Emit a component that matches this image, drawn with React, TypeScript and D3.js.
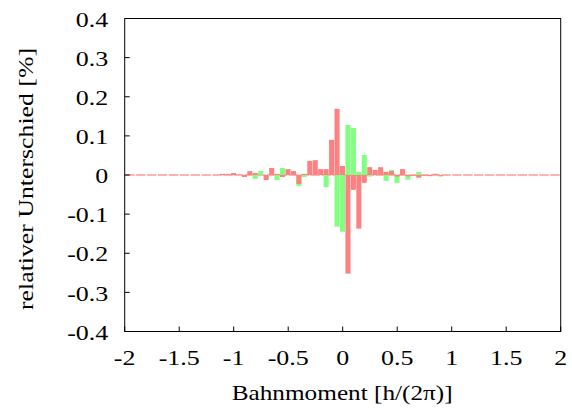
import React from "react";
import * as d3 from "d3";

const binCenters: number[] = d3.range(-22, 23).map((k) => k * 0.05);
// values for bins k=-22..22 (center k*0.05)
const redValues: number[] = [
  0.003, 0.002, 0.005, 0.001, -0.005, 0.01, 0.005, 0.0, -0.013, 0.018, 0.003,
  -0.005, 0.015, 0.01, -0.023, 0.003, 0.036, 0.038, 0.015, 0.015, 0.09, 0.169,
  0.023, -0.252, -0.038, -0.137, -0.02, 0.02, 0.013, 0.02, 0.008, 0.01, -0.004,
  0.015, -0.003, -0.002, -0.007, -0.002, -0.003, 0.003, -0.002, 0.0, 0.0, 0.0,
  0.0,
];
const greenValues: number[] = [
  0, 0, 0, 0, 0, 0, -0.01, 0.01, 0, 0, -0.013, 0.018, 0, 0, -0.028, -0.005, 0,
  0, 0, -0.031, 0, -0.132, -0.145, 0.128, 0.12, 0.008, 0.051, -0.004, 0, 0,
  -0.015, 0.013, -0.02, 0, -0.012, 0, 0.008, 0, 0, 0, -0.004, 0, 0, 0, 0,
];
const xTicks: number[] = [-2, -1.5, -1, -0.5, 0, 0.5, 1, 1.5, 2];
const yTicks: number[] = [-0.4, -0.3, -0.2, -0.1, 0, 0.1, 0.2, 0.3, 0.4];

const W = 572;
const H = 409;
const M = { left: 124.7, right: 560.7, top: 18.5, bottom: 331.5 };
const RED = "#ff8080";
const GREEN = "#80ff80";
const FONT = "Liberation Serif, Times New Roman, Times, DejaVu Serif, serif";
const FS = 22;
const txt: React.CSSProperties = { fontFamily: FONT, fontSize: FS + "px" };

const labelWidth = (s: string) => {
  let w = 0;
  for (const ch of s) w += ch === "." ? 0.25 : ch === "-" ? 0.333 : 0.5;
  return w * FS * 1.18;
};

export default function App() {
  const x = d3.scaleLinear().domain([-2, 2]).range([M.left, M.right]);
  const y = d3.scaleLinear().domain([-0.4, 0.4]).range([M.bottom, M.top]);
  const bw = 0.05;
  const fmt = (v: number) => (v === 0 ? "0" : String(+v.toFixed(2)));
  const baseSegs = d3.range(-2, 2, 0.1);

  const bar = (c: number, v: number, color: string, key: string) => {
    if (v === 0) return null;
    const x0 = x(c - bw / 2);
    const x1 = x(c + bw / 2);
    const y0 = y(0);
    const y1 = y(v);
    return (
      <rect
        key={key}
        x={x0}
        width={x1 - x0 - 0.4}
        y={Math.min(y0, y1)}
        height={Math.abs(y1 - y0)}
        fill={color}
      />
    );
  };

  return (
    <svg width={W} height={H} style={{ position: "absolute", left: 0, top: 0 }}>
      <rect width={W} height={H} fill="white" />
      {baseSegs.map((s, i) => (
        <rect
          key={"b" + i}
          x={x(s + 0.005)}
          width={x(s + 0.1) - x(s + 0.005) - 1}
          y={y(0) - 0.6}
          height={1.2}
          fill={RED}
        />
      ))}
      {binCenters.map((c, i) => bar(c, greenValues[i], GREEN, "g" + i))}
      {binCenters.map((c, i) => bar(c, redValues[i], RED, "r" + i))}
      <rect
        x={M.left}
        y={M.top}
        width={M.right - M.left}
        height={M.bottom - M.top}
        fill="none"
        stroke="black"
        strokeWidth={1}
      />
      {xTicks.map((t) => (
        <g key={"x" + t}>
          <line x1={x(t)} x2={x(t)} y1={M.bottom} y2={M.bottom - 5} stroke="black" />
          <text
            x={x(t)}
            y={365}
            textAnchor="middle"
            style={txt}
            textLength={labelWidth(fmt(t))}
            lengthAdjust="spacingAndGlyphs"
          >
            {fmt(t)}
          </text>
        </g>
      ))}
      {yTicks.map((t) => (
        <g key={"y" + t}>
          <line x1={M.left} x2={M.left + 5} y1={y(t)} y2={y(t)} stroke="black" />
          <text
            x={108.3 - labelWidth(fmt(t))}
            y={y(t) + 8.2}
            style={txt}
            textLength={labelWidth(fmt(t))}
            lengthAdjust="spacingAndGlyphs"
          >
            {fmt(t)}
          </text>
        </g>
      ))}
      <text
        x={231.7}
        y={399.5}
        style={txt}
        textLength={221}
        lengthAdjust="spacingAndGlyphs"
      >
        Bahnmoment [h/(2π)]
      </text>
      <text
        transform={`translate(33,310) rotate(-90)`}
        style={txt}
        textLength={262}
        lengthAdjust="spacingAndGlyphs"
      >
        relativer Unterschied [%]
      </text>
    </svg>
  );
}
